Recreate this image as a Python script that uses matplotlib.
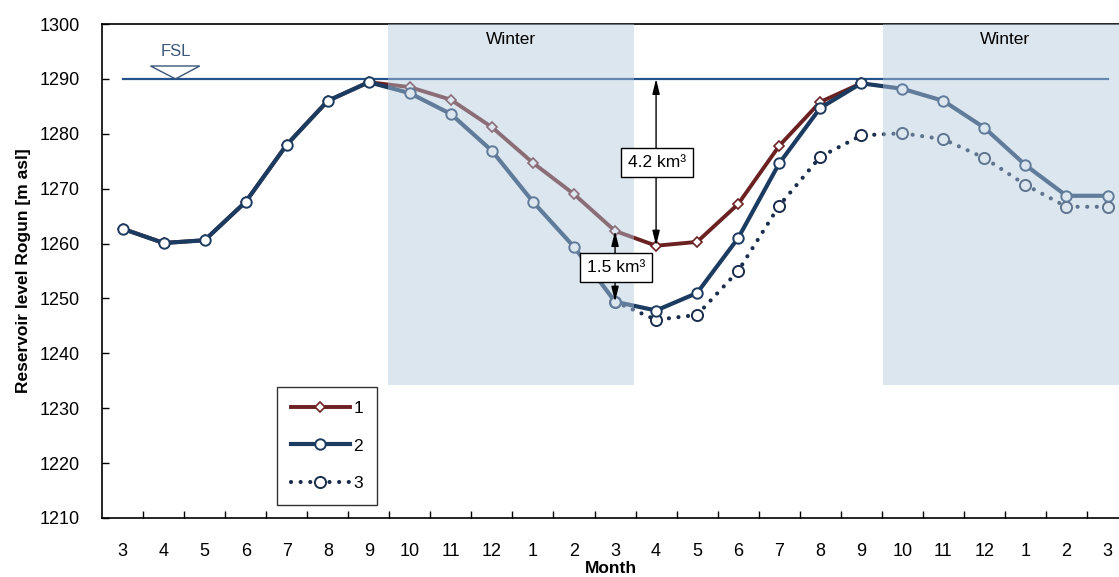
#!/usr/bin/env python3
import matplotlib
matplotlib.use("Agg")

import numpy as np
import matplotlib.pyplot as plt
from matplotlib.patches import Polygon
from matplotlib.ticker import FixedLocator

plt.rcParams["font.family"] = ["Liberation Sans", "DejaVu Sans"]

MONTHS = [3, 4, 5, 6, 7, 8, 9, 10, 11, 12, 1, 2, 3, 4, 5, 6, 7, 8, 9, 10, 11, 12, 1, 2, 3]
FSL = 1290.0
NAN = np.nan

# 1: red, diamonds
LEVEL_1 = [1262.7, 1260.1, 1260.6, 1267.6, 1278.0, 1286.0, 1289.4,
           1288.5, 1286.2, 1281.2, 1274.7, 1269.0, 1262.3, 1259.6, 1260.3,
           1267.2, 1277.8, 1285.8, 1289.2] + [NAN] * 6
# 2: dark blue, circles
LEVEL_2 = [1262.7, 1260.1, 1260.6, 1267.6, 1278.0, 1286.0, 1289.4,
           1287.4, 1283.6, 1276.9, 1267.6, 1259.4, 1249.4, 1247.8, 1251.0,
           1261.0, 1274.6, 1284.7, 1289.2, 1288.2, 1286.0, 1281.1, 1274.3,
           1268.7, 1268.7]
# 3: dotted, circles
LEVEL_3 = [NAN] * 12 + [1249.4, 1246.1, 1247.0, 1255.0, 1266.9, 1275.8,
                        1279.7, 1280.1, 1279.0, 1275.6, 1270.7, 1266.7, 1266.7]

WINTERS = [(6.47, 12.45), (18.53, 24.5)]
WINTER_BOTTOM = 1234.2

RED = "#6b2121"
BLUE = "#1c3b61"
NAVY = "#1a2d4c"
FSL_COLOR = "#24528a"
SHADE = "#b3c9de"

fig = plt.figure(figsize=(11.19, 5.77), dpi=100)
ax = fig.add_axes([0.0912, 0.1023, 0.9088, 0.8561])

x = np.arange(len(MONTHS))

ax.plot([0, len(MONTHS) - 1], [FSL, FSL], color=FSL_COLOR, lw=1.6, zorder=2)

ax.plot(x, LEVEL_3, color=NAVY, lw=3.0, linestyle=(0, (0.01, 2.3)),
        dash_capstyle="round", marker="o", ms=8, mfc="white", mec=NAVY,
        mew=1.4, zorder=2.5, label="3")
ax.plot(x, LEVEL_1, color=RED, lw=2.8, marker="D", ms=5, mfc="white",
        mec=RED, mew=1.2, zorder=3, label="1")
ax.plot(x, LEVEL_2, color=BLUE, lw=3.0, marker="o", ms=7.5, mfc="white",
        mec=BLUE, mew=1.4, zorder=4, label="2")

for x0, x1 in WINTERS:
    ax.fill_between([x0, x1], WINTER_BOTTOM, 1300, color=SHADE, alpha=0.46,
                    lw=0, zorder=5)
    ax.text((x0 + x1) / 2 if x1 < 24 else 21.5, 1297.2, "Winter",
            ha="center", va="center", fontsize=12.5, zorder=7)

# FSL marker
ax.add_patch(Polygon([[0.68, 1292.35], [1.88, 1292.35], [1.29, 1290.0]],
                     closed=True, fill=False, ec="#3b5578", lw=1.0, zorder=6))
ax.text(1.29, 1294.9, "FSL", ha="center", va="center", fontsize=12,
        color="#3b5578", zorder=6)

# storage arrows
arrow = dict(arrowstyle="<|-|>,head_length=0.9,head_width=0.22", color="black",
             lw=1.0, shrinkA=0, shrinkB=0)
ax.annotate("", xy=(13, FSL), xytext=(13, LEVEL_1[13]), arrowprops=arrow,
            zorder=6)
ax.annotate("", xy=(12, LEVEL_1[12]), xytext=(12, LEVEL_2[12]),
            arrowprops=arrow, zorder=6)
box = dict(boxstyle="square,pad=0.4", fc="white", ec="black", lw=1.0)
ax.text(13.02, 1274.8, "4.2 km³", ha="center", va="center", fontsize=12.5,
        bbox=box, zorder=7)
ax.text(12.02, 1255.6, "1.5 km³", ha="center", va="center", fontsize=12.5,
        bbox=box, zorder=7)

ax.set_xlim(-0.5, 24.28)
ax.set_ylim(1210, 1300)
ax.set_yticks(np.arange(1210, 1301, 10))
ax.set_xticks(x)
ax.set_xticklabels([str(m) for m in MONTHS])
ax.xaxis.set_minor_locator(FixedLocator(np.arange(0.5, 24, 1)))
ax.tick_params(axis="x", which="major", length=0, pad=18, labelsize=13)
ax.tick_params(axis="x", which="minor", direction="in", length=5, width=1)
ax.tick_params(axis="y", direction="in", length=5, width=1, pad=16,
               labelsize=13)
ax.spines["right"].set_visible(False)
for side in ("left", "bottom", "top"):
    ax.spines[side].set_linewidth(1.2)

ax.set_xlabel("Month", fontsize=12.5, fontweight="bold", labelpad=1)
ax.set_ylabel("Reservoir level Rogun [m asl]", fontsize=12.5,
              fontweight="bold", labelpad=6)

handles, labels = ax.get_legend_handles_labels()
order = [labels.index(k) for k in ("1", "2", "3")]
leg = ax.legend([handles[i] for i in order], [labels[i] for i in order],
                loc="lower left", bbox_to_anchor=(0.172, 0.026),
                handlelength=3.4, labelspacing=1.3, fontsize=12.5,
                fancybox=False, edgecolor="black", borderpad=0.8,
                handletextpad=0.2, borderaxespad=0)
leg.get_frame().set_linewidth(1.0)
leg.set_zorder(8)

fig.savefig("out.png", dpi=100)
plt.close(fig)
